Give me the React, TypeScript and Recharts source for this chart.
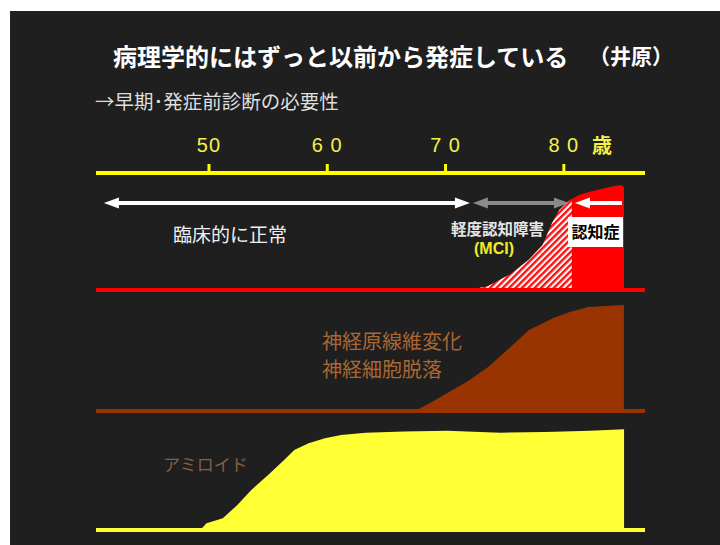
import React from 'react';
import { ComposedChart, Area, XAxis, YAxis, ReferenceLine, ReferenceArea } from 'recharts';

// ---------- data ----------
const AGE_DOMAIN: [number, number] = [40.45, 86.86];
const AGE_TICKS = [50, 60, 70, 80];
const AGE_TICK_LABELS = ['50', '6 0', '7 0', '8 0'];
const LEVEL_DOMAIN: [number, number] = [0, 117];

// clinical stage (red panel)
const clinicalAges = [72.06, 73.6, 75.5, 77.0, 78.2, 79.0, 79.6, 80.3, 80.68, 81.3, 82.1, 83.5, 84.3, 84.85, 85.08];
const mciLevel = [0, 4, 16, 30, 45, 67, 80, 88, 91, null, null, null, null, null, null];
const dementiaLevel = [null, null, null, null, null, null, null, null, 91, 95, 98, 102, 104, 105, 103];

// neurofibrillary tangles / neuronal loss (brown panel)
const tangleAges = [67.39, 68.7, 70.14, 71.9, 73.6, 75.3, 77.05, 79.12, 80.5, 82.05, 83.6, 85.08];
const tangleLevel = [0, 8, 18, 30, 44, 62, 81, 93, 99, 104, 105, 106];

// amyloid (yellow panel)
const amyloidAges = [49.27, 49.79, 51.17, 52.4, 53.58, 55.0, 56.35, 57.21, 58.42, 59.8, 61.17, 63.25, 66.5, 70.14, 74.63, 78.43, 82.22, 85.09];
const amyloidLevel = [0, 6.7, 11.7, 25, 40, 55, 70, 80, 86.7, 91.7, 95, 97.3, 98.5, 99.3, 97.3, 98, 99.3, 100.7];

// annotations (age ranges, level)
const normalRange = [41.12, 72.06];
const mciRange = [72.31, 80.43];
const dementiaArrowRange = [80.94, 84.91];
const arrowLevel = 87;
const dementiaBox = { x1: 80.35, x2: 85.0, y1: 43, y2: 73 };

const clinicalData = clinicalAges.map((age, i) => ({ age, mci: mciLevel[i], dementia: dementiaLevel[i] }));
const tangleData = tangleAges.map((age, i) => ({ age, v: tangleLevel[i] }));
const amyloidData = amyloidAges.map((age, i) => ({ age, v: amyloidLevel[i] }));

const CJK = "'Noto Sans CJK JP', 'Noto Sans CJK SC', sans-serif";
const MARGIN = { left: 96, right: 75 };

const arrowShape = (color: string, headStart: boolean, headEnd: boolean) => (props: any) => {
  const { x1, y1, x2, y2 } = props;
  const hl = 15;
  const hw = 5.5;
  const xs = headStart ? x1 + hl - 2 : x1;
  const xe = headEnd ? x2 - hl + 2 : x2;
  return (
    <g>
      <line x1={xs} y1={y1} x2={xe} y2={y2} stroke={color} strokeWidth={4} />
      {headStart && <polygon points={`${x1},${y1} ${x1 + hl},${y1 - hw} ${x1 + hl},${y1 + hw}`} fill={color} />}
      {headEnd && <polygon points={`${x2},${y2} ${x2 - hl},${y2 - hw} ${x2 - hl},${y2 + hw}`} fill={color} />}
    </g>
  );
};

const baseAxis = (id: string, color: string, h: number) => (
  <XAxis
    xAxisId={id}
    dataKey="age"
    type="number"
    domain={AGE_DOMAIN}
    allowDataOverflow
    axisLine={{ stroke: color, strokeWidth: 4 }}
    tick={false}
    tickLine={false}
    height={h}
  />
);

export default function App() {
  return (
    <div style={{ position: 'absolute', left: 0, top: 0, width: 720, height: 545, background: '#ffffff', overflow: 'hidden' }}>
      <div style={{ position: 'absolute', left: 10, top: 11, width: 710, height: 534, background: '#1f1f1f' }} />

      {/* red panel + age axis */}
      <div style={{ position: 'absolute', left: 0, top: 0 }}>
        <ComposedChart width={720} height={300} data={clinicalData} margin={{ top: 133, right: MARGIN.right, left: MARGIN.left, bottom: 0 }}>
          <defs>
            <pattern id="mciHatch" width="4.5" height="4.5" patternUnits="userSpaceOnUse" patternTransform="rotate(45)">
              <rect width="4.5" height="4.5" fill="#ffffff" />
              <rect width="2.4" height="4.5" fill="#ff1010" />
            </pattern>
          </defs>
          <XAxis
            xAxisId="top"
            dataKey="age"
            orientation="top"
            type="number"
            domain={AGE_DOMAIN}
            allowDataOverflow
            ticks={AGE_TICKS}
            tickFormatter={(v: number) => AGE_TICK_LABELS[AGE_TICKS.indexOf(v)] ?? String(v)}
            axisLine={{ stroke: '#ffff00', strokeWidth: 4 }}
            tickLine={{ stroke: '#ffff00', strokeWidth: 3 }}
            tickSize={9}
            tickMargin={12}
            height={40}
            tick={{ fill: '#f2f24a', fontSize: 20, fontFamily: "'Liberation Sans', Arial, sans-serif", letterSpacing: 1 }}
          />
          {baseAxis('base', '#ff0000', 10)}
          <YAxis hide domain={LEVEL_DOMAIN} allowDataOverflow />
          <Area xAxisId="top" dataKey="mci" type="linear" stroke="none" fill="url(#mciHatch)" fillOpacity={1} isAnimationActive={false} dot={false} activeDot={false} />
          <Area xAxisId="top" dataKey="dementia" type="linear" stroke="none" fill="#ff0000" fillOpacity={1} isAnimationActive={false} dot={false} activeDot={false} />
          <ReferenceLine xAxisId="top" segment={[{ x: normalRange[0], y: arrowLevel }, { x: normalRange[1], y: arrowLevel }]} shape={arrowShape('#ffffff', true, true)} />
          <ReferenceLine xAxisId="top" segment={[{ x: mciRange[0], y: arrowLevel }, { x: mciRange[1], y: arrowLevel }]} shape={arrowShape('#8a8a8a', true, true)} />
          <ReferenceLine xAxisId="top" segment={[{ x: dementiaArrowRange[0], y: arrowLevel }, { x: dementiaArrowRange[1], y: arrowLevel }]} shape={arrowShape('#ffffff', true, false)} />
          <ReferenceArea
            xAxisId="top"
            x1={dementiaBox.x1}
            x2={dementiaBox.x2}
            y1={dementiaBox.y1}
            y2={dementiaBox.y2}
            fill="#ffffff"
            fillOpacity={1}
            stroke="none"
            label={{ value: '認知症', position: 'center', fill: '#000000', fontSize: 16, fontWeight: 'bold', fontFamily: CJK }}
          />
        </ComposedChart>
      </div>

      {/* brown panel */}
      <div style={{ position: 'absolute', left: 0, top: 294 }}>
        <ComposedChart width={720} height={125} data={tangleData} margin={{ top: 0, right: MARGIN.right, left: MARGIN.left, bottom: 0 }}>
          {baseAxis('base', '#993300', 8)}
          <YAxis hide domain={LEVEL_DOMAIN} allowDataOverflow />
          <Area xAxisId="base" dataKey="v" type="linear" stroke="none" fill="#993300" fillOpacity={1} isAnimationActive={false} dot={false} activeDot={false} />
        </ComposedChart>
      </div>

      {/* yellow panel */}
      <div style={{ position: 'absolute', left: 0, top: 413 }}>
        <ComposedChart width={720} height={125} data={amyloidData} margin={{ top: 0, right: MARGIN.right, left: MARGIN.left, bottom: 0 }}>
          {baseAxis('base', '#ffff33', 8)}
          <YAxis hide domain={LEVEL_DOMAIN} allowDataOverflow />
          <Area xAxisId="base" dataKey="v" type="linear" stroke="none" fill="#ffff33" fillOpacity={1} isAnimationActive={false} dot={false} activeDot={false} />
        </ComposedChart>
      </div>

      {/* text overlay */}
      <svg width={720} height={545} style={{ position: 'absolute', left: 0, top: 0, pointerEvents: 'none' }}>
        <g fontFamily={CJK} dominantBaseline="central">
          <text x={113} y={55} fontSize={24} fontWeight="bold" fill="#ffffff">病理学的にはずっと以前から発症している</text>
          <text x={589} y={55} fontSize={21} fontWeight="bold" fill="#ffffff">（井原）</text>
          <text x={95} y={100} fontSize={19.5} fill="#dedede">→早期･発症前診断の必要性</text>
          <text x={592} y={144} fontSize={20} fontWeight="bold" fill="#f2f24a">歳</text>
          <text x={173} y={233} fontSize={19} fill="#f0f0f0">臨床的に正常</text>
          <text x={451} y={228} fontSize={15.5} fontWeight="bold" fill="#e6e6e6">軽度認知障害</text>
          <text x={494} y={248} fontSize={16} fontWeight="bold" fill="#eeee22" textAnchor="middle" fontFamily="'Liberation Sans', Arial, sans-serif">(MCI)</text>
          <text x={322} y={340} fontSize={20} fill="#aa6633">神経原線維変化</text>
          <text x={322} y={368} fontSize={20} fill="#aa6633">神経細胞脱落</text>
          <text x={163} y={463} fontSize={17} fill="#8b5e3c">アミロイド</text>
        </g>
      </svg>
    </div>
  );
}
